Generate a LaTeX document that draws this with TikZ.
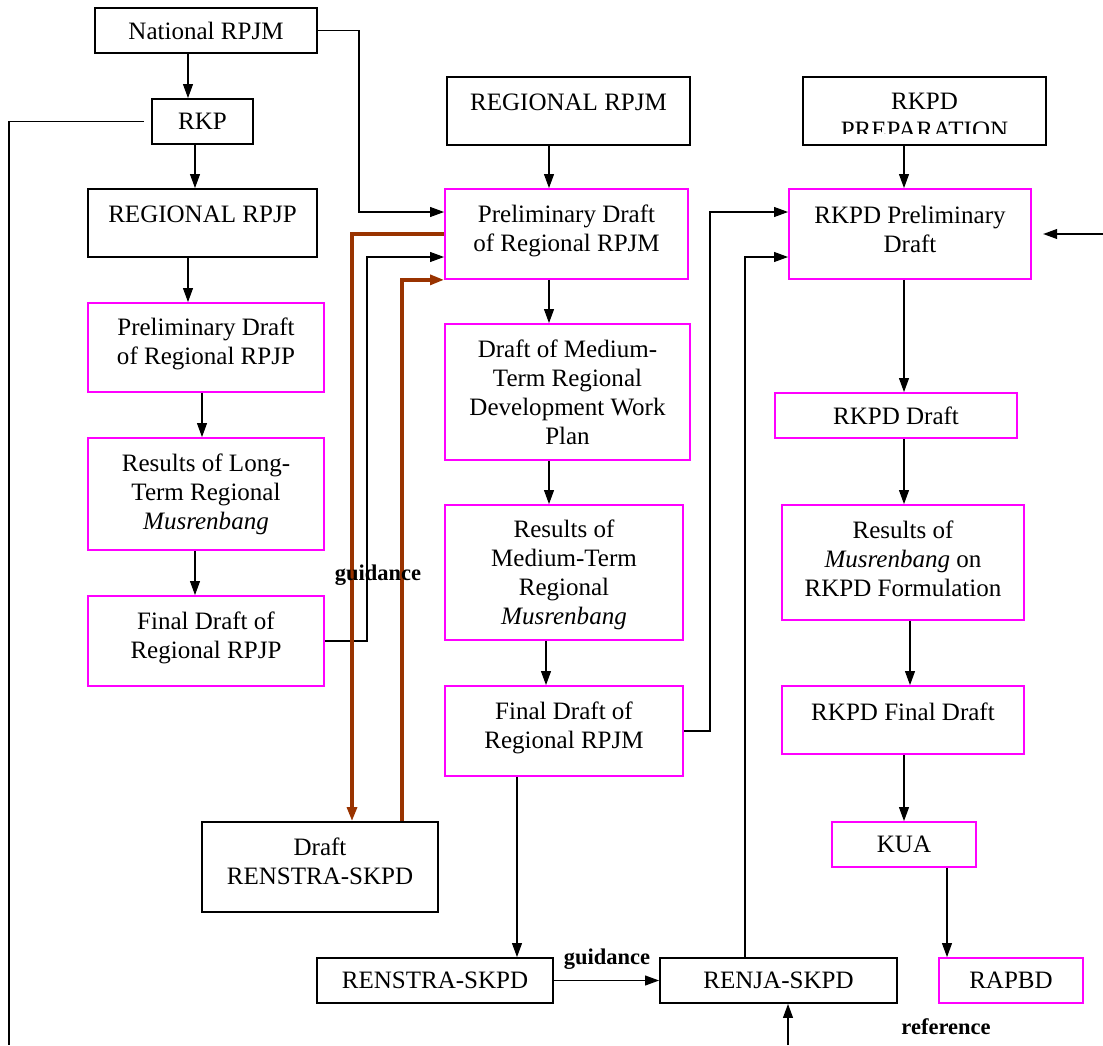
\documentclass[tikz,border=0pt]{standalone}
\usepackage{fontspec}
\setmainfont{Liberation Serif}
\usetikzlibrary{arrows.meta}
\definecolor{rustbrown}{RGB}{153,51,0}
\definecolor{boxpink}{RGB}{255,0,255}

\begin{document}
\begin{tikzpicture}[x=0.025cm,y=-0.025cm,
  every node/.style={font=\fontsize{17.8}{20.6}\selectfont},
  blackbox/.style={draw=black, line width=1.2pt, align=center, inner sep=2pt},
  pinkbox/.style={draw=boxpink, line width=1.2pt, align=center, inner sep=2pt},
  toptext/.style={text depth=12pt},
  lift/.style={text depth=#1},
  arr/.style={line width=1.05pt, -{Triangle[length=10pt,width=7pt]}},
  plainline/.style={line width=1.05pt},
  brownarr/.style={draw=rustbrown, line width=2.4pt, -{Triangle[length=10pt,width=7pt]}},
  tag/.style={font=\fontsize{16}{19}\selectfont\bfseries}]
            \useasboundingbox (0,0) rectangle (1103,1045);
            % left column
            \node[blackbox, minimum width=5.55cm, minimum height=1.125cm] (natrpjm) at (206,30.5) {National RPJM};
            \node[blackbox, minimum width=2.525cm, minimum height=1.125cm] (rkp) at (202.5,121.5) {RKP};
            \node[blackbox, toptext, minimum width=5.725cm, minimum height=1.7cm] (regrpjp) at (202.5,223) {REGIONAL RPJP};
            \node[pinkbox, lift=9.6pt, minimum width=5.9cm, minimum height=2.225cm] (prelimrpjp) at (206,347.5) {Preliminary Draft\\of Regional RPJP};
            \node[pinkbox, minimum width=5.9cm, minimum height=2.8cm] (resultlong) at (206,494) {Results of Long-\\Term Regional\\\textit{Musrenbang}};
            \node[pinkbox, lift=8.2pt, minimum width=5.9cm, minimum height=2.25cm] (finalrpjp) at (206,641) {Final Draft of\\Regional RPJP};
            \node[blackbox, lift=8.5pt, minimum width=5.9cm, minimum height=2.25cm] (draftrenstra) at (320,867) {Draft\\RENSTRA-SKPD};
            % middle column
            \node[blackbox, toptext, minimum width=6.075cm, minimum height=1.7cm] (regrpjm) at (568.5,111) {REGIONAL RPJM};
            \node[pinkbox, lift=8.2pt, minimum width=6.075cm, minimum height=2.25cm] (prelimrpjm) at (566.5,234) {Preliminary Draft\\of Regional RPJM};
            \node[pinkbox, minimum width=6.125cm, minimum height=3.4cm] (draftmed) at (567.5,392) {Draft of Medium-\\Term Regional\\Development Work\\Plan};
            \node[pinkbox, text height=78.3pt, minimum width=5.95cm, minimum height=3.375cm] (resultmed) at (564,572.5) {Results of\\Medium-Term\\Regional\\\textit{Musrenbang}};
            \node[pinkbox, lift=8.2pt, minimum width=5.95cm, minimum height=2.25cm] (finalrpjm) at (564,731) {Final Draft of\\Regional RPJM};
            \node[blackbox, minimum width=5.9cm, minimum height=1.125cm] (renstra) at (435,980.5) {RENSTRA-SKPD};
            \node[blackbox, minimum width=5.925cm, minimum height=1.125cm] (renja) at (778.5,980.5) {RENJA-SKPD};
            % right column
            \node[blackbox, minimum width=6.075cm, minimum height=1.7cm] (prep) at (924.5,111) {};
            \begin{scope}
            \clip (prep.north west) rectangle (1046,133.5);
            \node[align=center] (preptext) at (924.5,115.5) {RKPD\\PREPARATION};
            \end{scope}
            \node[pinkbox, lift=7.1pt, minimum width=6.05cm, minimum height=2.25cm] (prelimrkpd) at (910,234) {RKPD Preliminary\\Draft};
            \node[pinkbox, minimum width=6.05cm, minimum height=1.125cm] (rkpddraft) at (896,415.5) {RKPD Draft};
            \node[pinkbox, lift=5.7pt, minimum width=6.05cm, minimum height=2.875cm] (resultrkpd) at (903,562.5) {Results of\\\textit{Musrenbang} on\\RKPD Formulation};
            \node[pinkbox, toptext, minimum width=6.05cm, minimum height=1.7cm] (finalrkpd) at (903,720) {RKPD Final Draft};
            \node[pinkbox, minimum width=3.6cm, minimum height=1.125cm] (kua) at (904,844.5) {KUA};
            \node[pinkbox, minimum width=3.6cm, minimum height=1.125cm] (rapbd) at (1011,980.5) {RAPBD};
            % free ends
            \coordinate (leftend) at (9,1045);
            \coordinate (renjain) at (788,1045);
            \coordinate (rkpdin) at (1103,234);
            % connectors, left
            \draw[arr] (natrpjm.south -| 188,0) -- (rkp.north -| 188,0);
            \draw[arr] (rkp.south -| 195,0) -- (regrpjp.north -| 195,0);
            \draw[arr] (regrpjp.south -| 188,0) -- (prelimrpjp.north -| 188,0);
            \draw[arr] (prelimrpjp.south -| 202,0) -- (resultlong.north -| 202,0);
            \draw[arr] (resultlong.south -| 195,0) -- (finalrpjp.north -| 195,0);
            \draw[plainline] ([xshift=-5pt]rkp.west) -| (leftend);
            \draw[arr] (natrpjm.east) -| (359,212) -- (prelimrpjm.west |- 359,212);
            \draw[arr] (finalrpjp.east) -| (367,257) -- (prelimrpjm.west |- 367,257);
            \draw[brownarr] (prelimrpjm.west) -| (draftrenstra.north -| 352,0);
            \draw[brownarr] (draftrenstra.north -| 402,0) |- (prelimrpjm.south west);
            % connectors, middle
            \draw[arr] (regrpjm.south -| 549,0) -- (prelimrpjm.north -| 549,0);
            \draw[arr] (prelimrpjm.south -| 549,0) -- (draftmed.north -| 549,0);
            \draw[arr] (draftmed.south -| 549,0) -- (resultmed.north -| 549,0);
            \draw[arr] (resultmed.south -| 546,0) -- (finalrpjm.north -| 546,0);
            \draw[arr] (finalrpjm.south -| 517,0) -- (renstra.north -| 517,0);
            \draw[arr] (renstra.east) -- (renja.west);
            \draw[arr] (finalrpjm.east) -| (710,212) -- (prelimrkpd.west |- 710,212);
            \draw[arr] (renja.north -| 745,0) |- (prelimrkpd.west |- 745,257);
            \draw[arr] (renjain) -- (renja.south -| renjain);
            % connectors, right
            \draw[arr] (rkpdin) -- ([xshift=8pt]prelimrkpd.east);
            \draw[arr] (prep.south -| 904,0) -- (prelimrkpd.north -| 904,0);
            \draw[arr] (prelimrkpd.south -| 904,0) -- (rkpddraft.north -| 904,0);
            \draw[arr] (rkpddraft.south -| 904,0) -- (resultrkpd.north -| 904,0);
            \draw[arr] (resultrkpd.south -| 910,0) -- (finalrkpd.north -| 910,0);
            \draw[arr] (finalrkpd.south -| 904,0) -- (kua.north -| 904,0);
            \draw[arr] (kua.south -| 947,0) -- (rapbd.north -| 947,0);
            % labels
            \node[tag] (guideleft) at (378,575) {guidance};
            \node[tag] (guidebottom) at (607,959) {guidance};
            \node[tag] (refer) at (946,1027) {reference};
\end{tikzpicture}
\end{document}
